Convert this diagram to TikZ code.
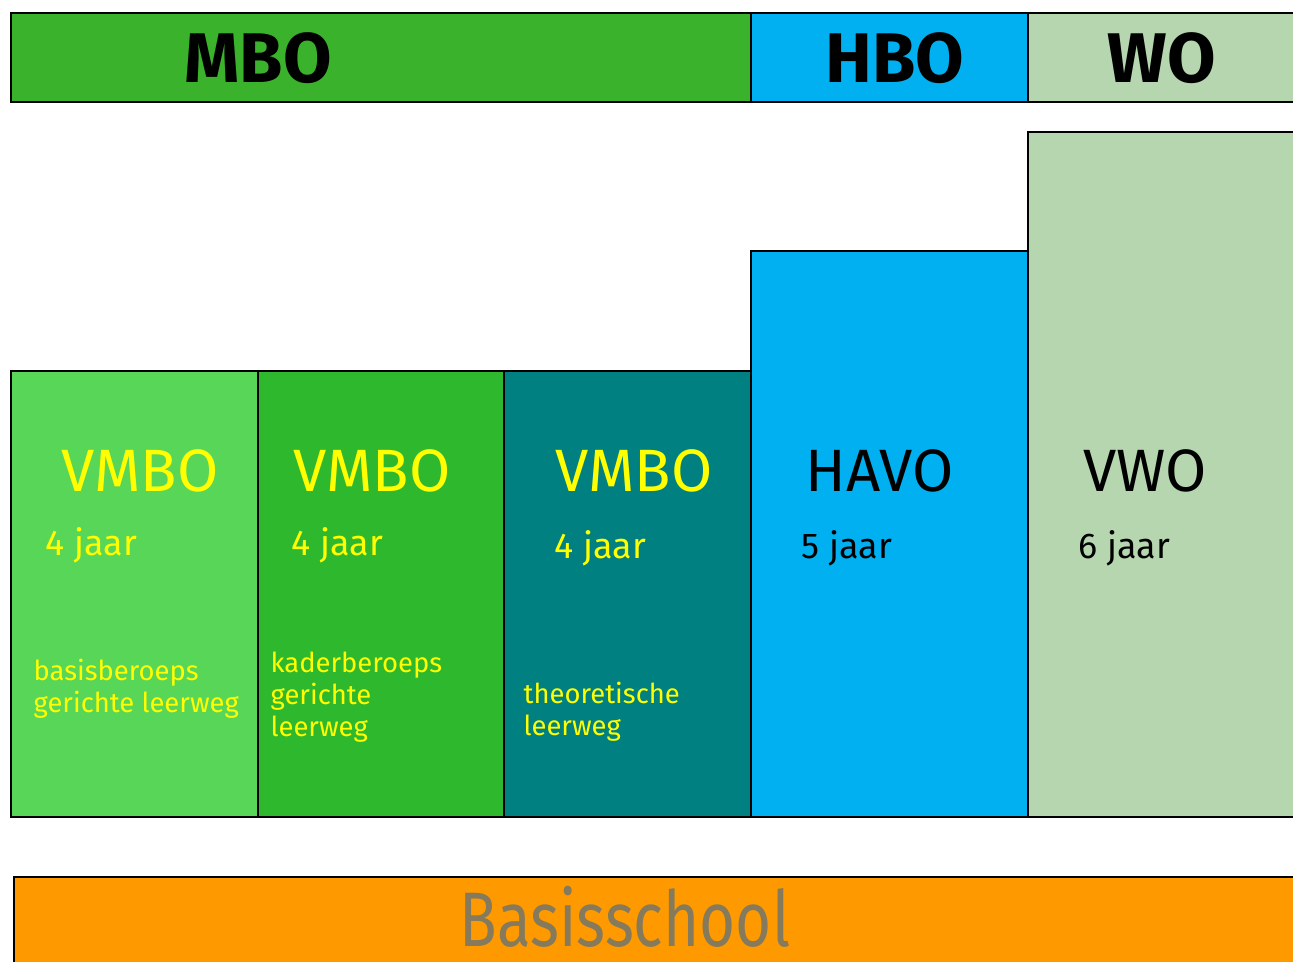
\documentclass[tikz,border=0pt]{standalone}
\usepackage{fontspec}
\setmainfont{Fira Sans}
\newfontfamily\narrowfont[FakeStretch=0.80]{Fira Sans}
\usetikzlibrary{positioning}
\definecolor{mbogreen}{HTML}{3AB22B}
\definecolor{hboblue}{HTML}{00B0F0}
\definecolor{wogreen}{HTML}{B5D6AE}
\definecolor{basisgreen}{HTML}{57D657}
\definecolor{kadergreen}{HTML}{2EB82E}
\definecolor{theorteal}{HTML}{008080}
\definecolor{basisorange}{HTML}{FF9900}
\definecolor{basisgray}{HTML}{857A5C}
\definecolor{leeryellow}{HTML}{FFFF00}
\tikzset{
    raw block/.style={rectangle, semithick, draw=black, anchor=north west, inner sep=0pt},
    top block/.style={raw block, minimum height=0.89cm},
    school block/.style={raw block, minimum width=2.47cm},
    head/.style={font=\fontsize{20}{20}\selectfont\bfseries, text=black},
    title/.style={font=\fontsize{17}{17}\selectfont},
    years/.style={font=\fontsize{10.2}{10.2}\selectfont, anchor=west, inner sep=0pt},
    route/.style={font=\fontsize{7.8}{9.1}\selectfont, anchor=north west, align=left, inner sep=0pt, text=leeryellow}
}
\begin{document}
\begin{tikzpicture}
    \useasboundingbox (0,0) rectangle (12.93,-9.61);
    \clip (0,0) rectangle (12.93,-9.61);
    \node[top block, fill=mbogreen, minimum width=7.40cm] (mbo) at (0.10,-0.12) {};
    \node[top block, fill=hboblue, minimum width=2.77cm] (hbo) at (7.50,-0.12) {};
    \node[top block, fill=wogreen, minimum width=2.80cm] (wo) at (10.27,-0.12) {};
    \node[head] (mbo text) at (2.58,-0.58) {MBO};
    \node[head] (hbo text) at (8.95,-0.58) {HBO};
    \node[head] (wo text) at (11.62,-0.58) {WO};

    \node[school block, fill=basisgreen, minimum height=4.46cm] (vmbob) at (0.10,-3.70) {};
    \node[school block, fill=kadergreen, minimum height=4.46cm, minimum width=2.46cm] (vmbok) at (2.57,-3.70) {};
    \node[school block, fill=theorteal, minimum height=4.46cm] (vmbot) at (5.03,-3.70) {};
    \node[school block, fill=hboblue, minimum height=5.66cm, minimum width=2.77cm] (havo) at (7.50,-2.50) {};
    \node[school block, fill=wogreen, minimum height=6.85cm, minimum width=2.80cm] (vwo) at (10.27,-1.31) {};

    \begin{scope}[every node/.style={text=leeryellow}]
        \node[title] (vmbob title) at (1.40,-4.71) {VMBO};
        \node[title] (vmbok title) at (3.72,-4.71) {VMBO};
        \node[title] (vmbot title) at (6.34,-4.71) {VMBO};
        \node[years] (vmbob years) at (0.45,-5.45) {4 jaar};
        \node[years] (vmbok years) at (2.91,-5.45) {4 jaar};
        \node[years] (vmbot years) at (5.54,-5.48) {4 jaar};
    \end{scope}
    \begin{scope}[every node/.style={text=black}]
        \node[title] (havo title) at (8.80,-4.71) {HAVO};
        \node[title] (vwo title) at (11.45,-4.71) {VWO};
        \node[years] (havo years) at (8.01,-5.48) {5 jaar};
        \node[years] (vwo years) at (10.78,-5.48) {6 jaar};
    \end{scope}
    \node[route] (vmbob route) at (0.33,-6.58) {basisberoeps\\gerichte leerweg};
    \node[route] (vmbok route) at (2.70,-6.51) {kaderberoeps\\gerichte\\leerweg};
    \node[route] (vmbot route) at (5.23,-6.81) {theoretische\\leerweg};

    \node[raw block, fill=basisorange, minimum width=13.0cm, minimum height=1.2cm] (basis) at (0.13,-8.76) {};
    \node[font=\narrowfont\fontsize{22}{22}\selectfont, text=basisgray, inner sep=0pt] (basis text) at (6.25,-9.17) {Basisschool};
\end{tikzpicture}
\end{document}
